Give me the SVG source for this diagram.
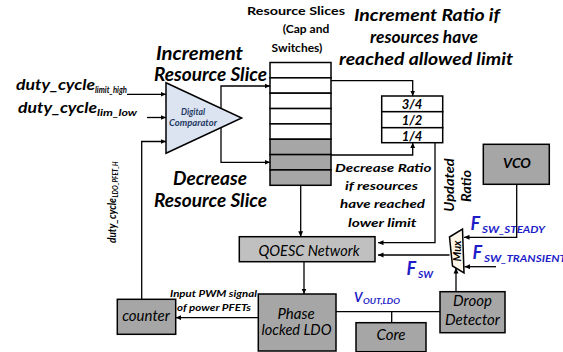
<svg xmlns="http://www.w3.org/2000/svg" width="563" height="352" viewBox="0 0 563 352">
<defs>
<marker id="ah" viewBox="0 0 6 6" refX="6" refY="3" markerWidth="5.5" markerHeight="5.5" markerUnits="userSpaceOnUse" orient="auto"><path d="M0,0.3 L6,3 L0,5.7 z" fill="#000"/></marker>
</defs>
<style>
.box{stroke:#000;stroke-width:1.5}
.g1{fill:#a6a6a6}
.g2{fill:#c0c0c0}
.w{fill:#fff}
.ln{fill:none;stroke:#000;stroke-width:1.3}
.a{marker-end:url(#ah)}
text{font-family:Lato,"Liberation Sans",sans-serif;fill:#000}
.bi{font-weight:bold;font-style:italic}
.it{font-style:italic}
.blue{fill:#1c1cc8}
.c{text-anchor:middle}
</style>
<rect width="563" height="352" fill="#fff"/>

<g id="labels">
<text class="bi" x="16" y="90" font-size="16" textLength="79" lengthAdjust="spacingAndGlyphs">duty_cycle</text>
<text class="bi" x="95" y="93" font-size="9.5" textLength="32" lengthAdjust="spacingAndGlyphs">limit_high</text>
<text class="bi" x="18" y="113" font-size="16" textLength="79" lengthAdjust="spacingAndGlyphs">duty_cycle</text>
<text class="bi" x="97" y="116" font-size="9.5" textLength="40" lengthAdjust="spacingAndGlyphs">lim_low</text>
<text class="bi" x="156" y="60" font-size="18" textLength="87" lengthAdjust="spacingAndGlyphs">Increment</text>
<text class="bi" x="154" y="81" font-size="18" textLength="113" lengthAdjust="spacingAndGlyphs">Resource Slice</text>
<text class="bi" x="173" y="185" font-size="18" textLength="74" lengthAdjust="spacingAndGlyphs">Decrease</text>
<text class="bi" x="154" y="207" font-size="18" textLength="113" lengthAdjust="spacingAndGlyphs">Resource Slice</text>
<text font-weight="bold" x="247" y="15" font-size="12" textLength="98" lengthAdjust="spacingAndGlyphs">Resource Slices</text>
<text font-weight="bold" x="306" y="33" font-size="12" class="c">(Cap and</text>
<text font-weight="bold" x="297" y="52" font-size="12" class="c">Switches)</text>
<text class="bi" x="354" y="21" font-size="17" textLength="146" lengthAdjust="spacingAndGlyphs">Increment Ratio if</text>
<text class="bi" x="370" y="43" font-size="17" textLength="108" lengthAdjust="spacingAndGlyphs">resources have</text>
<text class="bi" x="339" y="65" font-size="17" textLength="174" lengthAdjust="spacingAndGlyphs">reached allowed limit</text>
<text class="bi" x="335" y="171.5" font-size="12" textLength="96.5" lengthAdjust="spacingAndGlyphs">Decrease Ratio</text>
<text class="bi" x="345" y="190" font-size="12" textLength="73" lengthAdjust="spacingAndGlyphs">if resources</text>
<text class="bi" x="340" y="208" font-size="12" textLength="85" lengthAdjust="spacingAndGlyphs">have reached</text>
<text class="bi" x="348" y="226.5" font-size="12" textLength="68.5" lengthAdjust="spacingAndGlyphs">lower limit</text>
<text class="bi c" transform="translate(454,185) rotate(-90)" font-size="14" textLength="53.5" lengthAdjust="spacingAndGlyphs">Updated</text>
<text class="bi c" transform="translate(471,186) rotate(-90)" font-size="14" textLength="32" lengthAdjust="spacingAndGlyphs">Ratio</text>
<text class="bi" transform="translate(115.5,243) rotate(-90)" font-size="12" textLength="45" lengthAdjust="spacingAndGlyphs">duty_cycle</text>
<text class="bi" transform="translate(117.5,197.5) rotate(-90)" font-size="7" textLength="36" lengthAdjust="spacingAndGlyphs">LDO_PFET_H</text>
<text class="bi" x="170" y="297" font-size="8.5" textLength="87" lengthAdjust="spacingAndGlyphs">Input PWM signal</text>
<text class="bi" x="177" y="311" font-size="8.5" textLength="74" lengthAdjust="spacingAndGlyphs">of power PFETs</text>
<text class="bi blue" x="470.5" y="230" font-size="18">F</text>
<text class="bi blue" x="482" y="233" font-size="9.5" textLength="63" lengthAdjust="spacingAndGlyphs">SW_STEADY</text>
<text class="bi blue" x="472.5" y="259" font-size="18">F</text>
<text class="bi blue" x="484" y="262" font-size="9.5" textLength="82" lengthAdjust="spacingAndGlyphs">SW_TRANSIENT</text>
<text class="bi blue" x="406.5" y="275" font-size="18">F</text>
<text class="bi blue" x="418" y="278" font-size="9.5" textLength="15" lengthAdjust="spacingAndGlyphs">SW</text>
<text class="bi blue" x="354" y="302" font-size="13">V</text>
<text class="bi blue" x="363" y="304" font-size="7.5" textLength="37" lengthAdjust="spacingAndGlyphs">OUT,LDO</text>
</g>

<g id="comparator">
<polygon class="box" points="166,82.7 166,153.3 241.7,118" fill="#dce4f2"/>
<text class="bi c" x="193" y="115" font-size="8.5" style="fill:#1f3864">Digital</text>
<text class="bi c" x="193" y="126" font-size="8.5" style="fill:#1f3864" textLength="48" lengthAdjust="spacingAndGlyphs">Comparator</text>
</g>

<g id="resource-slices">
<rect class="box w" x="270" y="62.5" width="61" height="15.35"/>
<rect class="box w" x="270" y="77.85" width="61" height="15.35"/>
<rect class="box w" x="270" y="93.2" width="61" height="15.35"/>
<rect class="box w" x="270" y="108.55" width="61" height="15.35"/>
<rect class="box w" x="270" y="123.9" width="61" height="15.35"/>
<rect class="box g1" x="270" y="139.25" width="61" height="15.35"/>
<rect class="box g1" x="270" y="154.6" width="61" height="15.35"/>
<rect class="box g1" x="270" y="169.95" width="61" height="15.35"/>
</g>

<g id="ratio">
<rect class="box w" x="381.7" y="96" width="61" height="15.7"/>
<rect class="box w" x="381.7" y="111.7" width="61" height="16"/>
<rect class="box w" x="381.7" y="127.7" width="61" height="15"/>
<text class="bi c" x="412" y="109" font-size="13">3/4</text>
<text class="bi c" x="412" y="125" font-size="13">1/2</text>
<text class="bi c" x="412" y="140.5" font-size="13">1/4</text>
</g>

<g id="vco">
<rect class="box g1" x="483.3" y="144.3" width="66" height="40"/>
<text class="bi c" x="517" y="168" font-size="14">VCO</text>
</g>

<g id="qoesc">
<rect class="box g2" x="239.3" y="236.7" width="135.7" height="25"/>
<text class="it c" x="309" y="255.5" font-size="15" textLength="101" lengthAdjust="spacingAndGlyphs">QOESC Network</text>
</g>

<g id="mux">
<polygon class="box" points="449.5,237 462.5,229 464,273 452.5,266" fill="#fdf6e9"/>
<text class="bi c" transform="translate(461,251) rotate(-90)" font-size="11">Mux</text>
</g>

<g id="phase-ldo">
<rect class="box g1" x="258.3" y="294" width="77.7" height="57"/>
<text class="it c" x="296" y="318.5" font-size="15">Phase</text>
<text class="it c" x="296.5" y="335" font-size="15" textLength="70" lengthAdjust="spacingAndGlyphs">locked LDO</text>
</g>

<g id="core">
<rect class="box g1" x="356" y="322.7" width="70" height="29"/>
<text class="it c" x="391" y="340" font-size="15">Core</text>
</g>

<g id="droop">
<rect class="box g1" x="440" y="291.7" width="65" height="41"/>
<text class="it c" x="472.5" y="306" font-size="15">Droop</text>
<text class="it c" x="472.5" y="324.5" font-size="15" textLength="55" lengthAdjust="spacingAndGlyphs">Detector</text>
</g>

<g id="counter">
<rect class="box g1" x="117.3" y="299.3" width="58.4" height="35"/>
<text class="it c" x="146" y="321" font-size="15">counter</text>
</g>

<g id="connectors">
<path class="ln a" d="M127,94.3 H166"/>
<path class="ln a" d="M147,117.5 H166"/>
<path class="ln a" d="M141.7,299.3 V141.5 H166"/>
<path class="ln a" d="M221,108.3 V86 H270"/>
<path class="ln a" d="M221,127.7 V162.3 H270"/>
<path class="ln a" d="M331,80.7 H412.7 V96"/>
<path class="ln a" d="M331,155 H412.7 V142.7"/>
<path class="ln a" d="M300.7,185.3 V236.7"/>
<path class="ln a" d="M435,142.7 V242.7 H378"/>
<path class="ln a" d="M449.5,255 H378"/>
<path class="ln a" d="M516.7,184.3 V237.3 H464"/>
<path class="ln a" d="M496,266.7 H464.5"/>
<path class="ln a" d="M456,291.7 V268"/>
<path class="ln a" d="M304,261.7 V294"/>
<path class="ln a" d="M258.3,317.7 H175.7"/>
<path class="ln" d="M336,311.7 H440"/>
<path class="ln" d="M391.7,311.7 V322.7"/>
</g>
</svg>
